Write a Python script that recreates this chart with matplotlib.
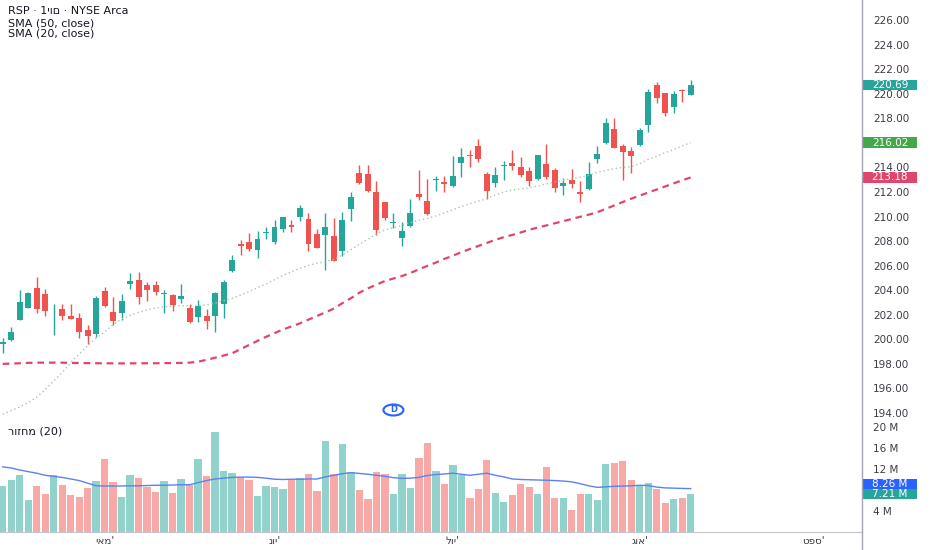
import matplotlib
matplotlib.use("Agg")
import matplotlib.pyplot as plt
import matplotlib.transforms as mtransforms
from matplotlib.patches import Rectangle, Ellipse
from matplotlib.lines import Line2D
import numpy as np

plt.rcParams['font.family'] = ['DejaVu Sans']

# daily candles
opens = [199.60, 199.95, 201.57, 202.58, 204.21, 203.72, 202.35, 202.47, 201.90, 201.71,
         200.76, 200.44, 203.94, 202.25, 202.17, 204.51, 204.86, 204.40, 204.40, 203.71,
         203.61, 203.29, 202.53, 201.79, 201.90, 201.90, 202.85, 205.57, 207.76, 207.95,
         207.27, 208.63, 207.95, 209.01, 209.31, 209.96, 209.80, 208.55, 208.50, 208.44,
         207.22, 210.59, 213.52, 213.44, 212.02, 211.16, 209.45, 208.23, 209.23, 211.83,
         211.26, 212.95, 212.78, 212.49, 214.38, 215.01, 215.74, 213.46, 212.76, 214.09,
         214.38, 214.00, 213.71, 213.03, 214.28, 213.79, 212.49, 212.97, 212.03, 212.24,
         214.66, 216.01, 217.10, 215.77, 215.36, 215.80, 217.45, 220.71, 220.03, 218.94,
         220.25, 219.92]
highs = [200.08, 200.98, 204.02, 203.83, 205.08, 204.07, 202.88, 202.88, 202.88, 202.17,
         201.20, 203.53, 204.24, 203.48, 203.69, 205.43, 205.46, 204.67, 204.72, 204.02,
         203.67, 204.48, 202.88, 203.18, 202.47, 203.88, 204.83, 206.90, 208.09, 208.63,
         208.80, 209.17, 209.71, 209.99, 209.71, 210.94, 210.26, 208.98, 210.26, 209.85,
         210.34, 212.02, 214.20, 214.20, 212.89, 211.21, 210.26, 209.58, 211.46, 213.79,
         213.03, 213.30, 213.30, 214.93, 215.55, 215.42, 216.28, 213.65, 214.06, 214.55,
         215.42, 214.82, 214.00, 215.04, 215.91, 213.92, 213.11, 213.87, 212.89, 214.41,
         215.74, 218.00, 218.00, 215.91, 215.63, 217.18, 220.36, 220.98, 220.09, 220.25,
         220.36, 221.12]
lows = [198.86, 199.87, 201.55, 202.53, 202.17, 201.90, 200.36, 201.57, 201.63, 200.08,
        199.62, 200.17, 202.66, 201.17, 201.57, 204.07, 202.88, 203.15, 203.61, 202.12,
        202.31, 202.99, 201.36, 201.44, 200.84, 200.63, 201.71, 205.51, 206.87, 207.22,
        206.62, 208.17, 207.76, 208.77, 208.77, 209.64, 207.22, 207.41, 205.65, 206.38,
        206.79, 209.64, 212.62, 212.02, 208.50, 209.71, 209.04, 207.60, 209.17, 211.35,
        210.12, 212.08, 211.97, 212.43, 213.25, 214.06, 214.47, 211.40, 212.43, 212.97,
        213.79, 213.25, 212.51, 212.97, 213.03, 212.03, 211.75, 212.35, 211.21, 212.16,
        214.38, 215.91, 215.55, 212.97, 213.52, 215.74, 216.91, 219.22, 218.18, 218.40,
        219.35, 219.90]
closes = [199.75, 200.57, 203.07, 203.75, 202.47, 202.34, 202.42, 201.93, 201.66, 200.63,
          200.30, 203.39, 202.72, 201.49, 203.15, 204.78, 203.48, 204.02, 203.86, 203.76,
          202.82, 203.56, 201.44, 202.72, 201.52, 203.75, 204.64, 206.46, 207.60, 207.36,
          208.17, 208.77, 209.12, 209.93, 209.12, 210.72, 207.76, 207.47, 209.12, 206.41,
          209.71, 211.56, 212.76, 212.08, 208.90, 209.85, 209.53, 208.82, 210.31, 211.62,
          210.18, 213.00, 212.68, 213.33, 214.82, 214.93, 214.66, 212.11, 213.38, 214.17,
          214.14, 213.38, 212.89, 214.98, 213.25, 212.30, 212.70, 212.62, 211.81, 213.44,
          215.09, 217.64, 215.61, 215.28, 214.93, 217.05, 220.17, 219.62, 218.46, 219.98,
          220.20, 220.69]
# volume in millions
volumes = [8.76, 9.84, 10.92, 6.03, 8.76, 7.30, 10.79, 8.89, 6.98, 6.60,
           8.38, 9.71, 13.97, 9.59, 6.60, 10.92, 10.22, 8.51, 7.56, 9.65,
           7.43, 10.03, 8.89, 13.84, 10.60, 19.05, 11.56, 11.24, 10.41, 9.84,
           6.79, 8.70, 8.57, 8.13, 9.90, 10.22, 11.05, 7.75, 17.27, 11.11,
           16.83, 11.43, 8.06, 6.22, 11.43, 10.98, 7.30, 11.11, 8.38, 14.10,
           16.95, 11.56, 9.14, 12.70, 10.86, 6.48, 8.19, 13.78, 7.37, 5.65,
           6.98, 9.14, 8.57, 7.17, 12.32, 6.48, 6.48, 4.25, 7.30, 7.30,
           6.03, 13.02, 13.14, 13.52, 9.84, 8.76, 9.27, 8.19, 5.46, 6.35,
           6.48, 7.21]
sma20 = [193.90, 194.20, 194.50, 194.85, 195.30, 195.90, 196.60, 197.30, 198.10, 198.80,
         199.50, 200.10, 200.60, 201.20, 201.65, 201.95, 202.20, 202.40, 202.55, 202.65,
         202.70, 202.74, 202.74, 202.74, 202.80, 202.95, 203.15, 203.33, 203.60, 203.88,
         204.20, 204.50, 204.85, 205.20, 205.50, 205.78, 206.02, 206.20, 206.32, 206.50,
         206.85, 207.30, 207.75, 208.15, 208.60, 208.90, 209.10, 209.28, 209.50, 209.70,
         209.85, 210.05, 210.30, 210.55, 210.80, 211.05, 211.25, 211.45, 211.75, 212.00,
         212.15, 212.25, 212.35, 212.48, 212.65, 212.80, 212.95, 213.08, 213.20, 213.35,
         213.60, 213.75, 213.90, 214.00, 214.06, 214.30, 214.65, 214.90, 215.20, 215.45,
         215.75, 216.02]
sma50 = [198.00, 198.02, 198.05, 198.08, 198.10, 198.10, 198.10, 198.10, 198.08, 198.07,
         198.06, 198.05, 198.05, 198.04, 198.04, 198.04, 198.05, 198.05, 198.05, 198.06,
         198.07, 198.08, 198.10, 198.18, 198.33, 198.50, 198.68, 198.86, 199.20, 199.54,
         199.87, 200.20, 200.50, 200.80, 201.05, 201.30, 201.60, 201.90, 202.20, 202.50,
         202.95, 203.35, 203.80, 204.15, 204.45, 204.75, 204.95, 205.15, 205.40, 205.70,
         205.98, 206.25, 206.55, 206.80, 207.10, 207.35, 207.60, 207.85, 208.10, 208.32,
         208.50, 208.70, 208.92, 209.10, 209.27, 209.45, 209.62, 209.80, 209.98, 210.15,
         210.35, 210.62, 210.90, 211.18, 211.45, 211.70, 211.95, 212.20, 212.45, 212.70,
         212.95, 213.18]
vol_ma20 = [12.40, 12.20, 11.80, 11.50, 11.20, 10.80, 10.60, 10.40, 10.10, 9.80,
            9.30, 8.80, 8.76, 8.76, 8.76, 8.80, 8.80, 8.85, 8.90, 8.90,
            8.95, 9.00, 9.00, 9.40, 9.80, 10.10, 10.25, 10.40, 10.45, 10.45,
            10.40, 10.25, 10.05, 10.00, 10.05, 10.05, 10.10, 10.10, 10.50, 10.80,
            11.10, 11.30, 11.15, 11.00, 10.80, 10.60, 10.35, 10.22, 10.25, 10.40,
            10.75, 10.95, 11.05, 11.20, 11.00, 10.80, 11.00, 11.20, 10.80, 10.50,
            10.10, 10.00, 9.95, 9.90, 9.85, 9.80, 9.70, 9.55, 9.20, 8.80,
            8.50, 8.60, 8.70, 8.75, 8.80, 8.90, 8.85, 8.55, 8.40, 8.35,
            8.30, 8.26]

price_ticks = list(range(194, 227, 2))
vol_ticks = [4, 12, 16, 20]
month_pos = [12, 32, 53, 75, 95.5]
month_labels = ["יאמ'", "נוי'", "לוי'", "גוא'", "טפס'"]  # hebrew, drawn in visual order
dividend_idx = 46

GREEN, RED = '#26a69a', '#ef5350'
VGREEN, VRED = '#92d2cc', '#f7a9a7'
TXT = '#3a3d46'

W, H = 932, 550
fig = plt.figure(figsize=(W / 100, H / 100), dpi=100)
axp = fig.add_axes([0, (H - 420) / H, 862 / W, 420 / H])
axv = fig.add_axes([0, (H - 532) / H, 862 / W, 112 / H], sharex=axp)

x = np.arange(len(closes))
o, c = np.array(opens), np.array(closes)
up = c >= o

# candles
axp.vlines(x, lows, highs, colors=np.where(up, GREEN, RED), lw=1)
axp.bar(x, np.maximum(np.abs(c - o), 0.07), bottom=np.minimum(o, c), width=0.7,
        color=np.where(up, GREEN, RED), linewidth=0)
axp.plot(x, sma50, color='#e2456b', lw=1.6, linestyle=(0, (3, 2.2)))
axp.plot(x, sma20, color='#a9c7ad', lw=1.0, linestyle=(0, (1, 2)))

axp.set_xlim(-0.32, 101.17)
axp.set_ylim(193.43, 227.63)
axp.yaxis.tick_right()
axp.set_yticks(price_ticks)
axp.set_yticklabels([f"{v:.2f}" for v in price_ticks])
axp.tick_params(axis='y', length=0, pad=8, labelsize=7.5, labelcolor=TXT)
axp.tick_params(axis='x', bottom=False, labelbottom=False)
for s in axp.spines.values():
    s.set_visible(False)
axp.spines['bottom'].set_visible(True)
axp.spines['bottom'].set_color('#e0e3eb')

# volume
axv.bar(x, volumes, width=0.86, color=np.where(up, VGREEN, VRED), linewidth=0)
axv.plot(x, vol_ma20, color='#5b82f0', lw=1)
axv.set_ylim(0, 21.33)
axv.yaxis.tick_right()
axv.set_yticks(vol_ticks)
axv.set_yticklabels([f"{v} M" for v in vol_ticks])
axv.tick_params(axis='y', length=0, pad=8, labelsize=7.5, labelcolor=TXT)
axv.set_xticks(month_pos)
axv.set_xticklabels(month_labels)
axv.tick_params(axis='x', length=0, pad=3, labelsize=7.5, labelcolor=TXT)
for s in axv.spines.values():
    s.set_visible(False)
axv.spines['bottom'].set_visible(True)
axv.spines['bottom'].set_color('#c3c5cc')

fig.add_artist(Line2D([862 / W] * 2, [0, 1], color='#a3a6af', lw=1))

ident = mtransforms.IdentityTransform()


def tag(ax, val, text, bg, dy=0):
    y = ax.transData.transform((0, val))[1] + dy
    x0 = ax.transAxes.transform((1, 0))[0]
    fig.add_artist(Rectangle((x0 + 1, y - 5.2), 54, 10.4, transform=ident,
                             facecolor=bg, edgecolor='none'))
    fig.text(x0 + 28, y, text, transform=ident, ha='center', va='center',
             fontsize=7.5, color='white')


tag(axp, closes[-1], f"{closes[-1]:.2f}", '#26a69a')
tag(axp, sma20[-1], f"{sma20[-1]:.2f}", '#43a84a')
tag(axp, sma50[-1], f"{sma50[-1]:.2f}", '#e2456b')
tag(axv, volumes[-1], f"{volumes[-1]:.2f} M", '#26a69a')
tag(axv, volumes[-1], f"{vol_ma20[-1]:.2f} M", '#2962ff', dy=10.4)

# legend texts
fig.text(8, H - 11.5, "RSP · 1יום · NYSE Arca", transform=ident, fontsize=8,
         va='center', color='#131722')
fig.text(8, H - 23, "SMA (50, close)", transform=ident, fontsize=8,
         va='center', color='#131722')
fig.text(8, H - 33.5, "SMA (20, close)", transform=ident, fontsize=8,
         va='center', color='#131722')
fig.text(8, H - 432, "רוזחמ (20)", transform=ident, fontsize=8,
         va='center', color='#131722')

# dividend marker
dx = axp.transData.transform((dividend_idx, 0))[0]
dy = axp.transAxes.transform((0, 0))[1] + 10
fig.add_artist(Ellipse((dx, dy), 20, 11, transform=ident, facecolor='white',
                       edgecolor='#2962ff', lw=1.5))
fig.text(dx, dy, "D", transform=ident, ha='center', va='center', fontsize=6,
         color='#2962ff', fontweight='bold')

fig.savefig("out.png", dpi=100, facecolor='white')
